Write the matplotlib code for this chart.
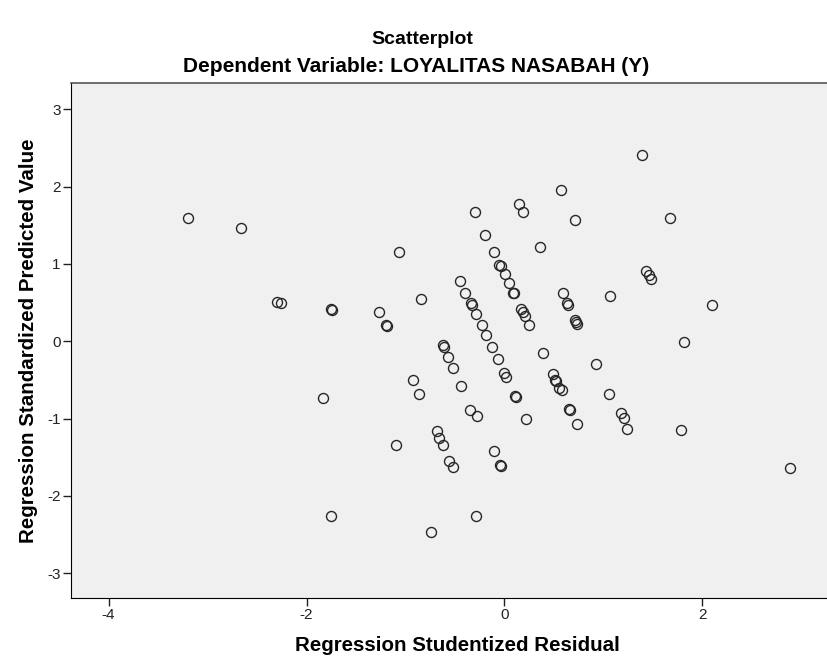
import matplotlib
matplotlib.use("Agg")
import matplotlib.pyplot as plt

plt.rcParams['font.family'] = ['Liberation Sans', 'DejaVu Sans']

residual = [
    -3.20, -2.66, -2.30, -2.26, -1.75, -1.74, -1.07, -1.27, -1.20, -1.19,
    -0.84, -0.30, -0.195, -0.11, -0.45, -0.40, -0.34, -0.33, -0.29, -0.23,
    -0.19, -0.124, -0.067, 0.0, 0.017, -0.05, -0.035, 0.003, 0.047, 0.09,
    0.10, 0.145, 0.19, 0.17, 0.185, 0.21, 0.25, 0.36, 0.573, 0.59,
    0.63, 0.64, 0.71, 0.71, 0.72, 0.73, 1.07, 1.39, 1.67, 1.43,
    1.46, 1.48, 2.10, 1.815, -0.616, -0.606, -0.57, -0.515, 0.39, 0.93,
    1.06, 0.49, 0.515, 0.525, 0.556, 0.58, 0.11, 0.115, 0.657, 0.665,
    0.73, 0.22, -0.926, -0.866, -0.434, -0.35, -0.28, -1.10, -0.68, -0.66,
    -0.62, -0.56, -0.515, -0.108, -0.04, -0.03, -1.75, -0.29, -0.74, -1.83,
    1.18, 1.21, 1.24, 1.78, 2.886,
]
predicted = [
    1.60, 1.46, 0.51, 0.49, 0.42, 0.41, 1.15, 0.38, 0.21, 0.20,
    0.55, 1.67, 1.38, 1.16, 0.78, 0.63, 0.49, 0.47, 0.35, 0.21,
    0.08, -0.08, -0.23, -0.41, -0.46, 0.99, 0.97, 0.87, 0.75, 0.63,
    0.62, 1.78, 1.67, 0.42, 0.38, 0.33, 0.21, 1.22, 1.95, 0.62,
    0.49, 0.47, 1.57, 0.27, 0.25, 0.22, 0.59, 2.415, 1.60, 0.915,
    0.86, 0.81, 0.47, -0.01, -0.05, -0.07, -0.20, -0.34, -0.15, -0.30,
    -0.68, -0.42, -0.50, -0.52, -0.61, -0.625, -0.71, -0.72, -0.88, -0.89,
    -1.07, -1.00, -0.50, -0.68, -0.58, -0.89, -0.97, -1.345, -1.16, -1.25,
    -1.345, -1.55, -1.63, -1.42, -1.60, -1.61, -2.255, -2.255, -2.47, -0.73,
    -0.93, -0.99, -1.14, -1.15, -1.635,
]
xticks = [-4, -2, 0, 2]
yticks = [-3, -2, -1, 0, 1, 2, 3]

fig = plt.figure(figsize=(8.28, 6.61), dpi=100)
ax = fig.add_axes([71/828, 1-598/661, 1-71/828, (598-83)/661])
ax.set_facecolor('#f0f0f0')
ax.plot(residual, predicted, linestyle='none', marker='o', markersize=7.2,
        markerfacecolor='none', markeredgecolor='#262626', markeredgewidth=1.0)

ax.set_xlim(-4.38, 3.27)
ax.set_ylim(-3.32, 3.34)
ax.set_xticks(xticks)
ax.set_yticks(yticks)
tick_font = dict(family=['Liberation Sans Narrow', 'Liberation Sans', 'DejaVu Sans'], size=11)
ax.set_xticklabels([str(t) for t in xticks], fontdict=tick_font)
ax.set_yticklabels([str(t) for t in yticks], fontdict=tick_font)
ax.tick_params(direction='out', length=6, width=1, colors='#222222', pad=1.5)

ax.spines['right'].set_visible(False)
ax.spines['top'].set_color('#555555')
ax.spines['top'].set_linewidth(1.2)
ax.spines['left'].set_color('black')
ax.spines['bottom'].set_color('black')

ax.set_xlabel('Regression Studentized Residual', fontsize=14.8, fontweight='bold')
ax.set_ylabel('Regression Standardized Predicted Value', fontsize=14.8, fontweight='bold')
ax.xaxis.set_label_coords((457-71)/757, (598-636)/515)
ax.yaxis.set_label_coords((38-71)/757, 0.5)

fig.text(422/828, 1-39/661, 'Scatterplot', ha='center', va='center', fontsize=14, fontweight='bold')
fig.text(416/828, 1-66/661, 'Dependent Variable: LOYALITAS NASABAH (Y)', ha='center', va='center',
         fontsize=15, fontweight='bold')

fig.savefig('out.png', dpi=100)
